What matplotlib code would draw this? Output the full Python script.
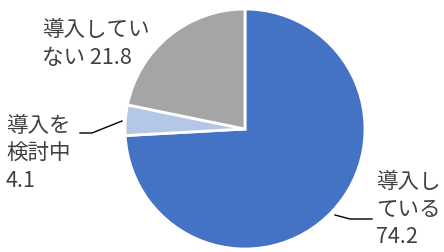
import matplotlib.pyplot as plt
from matplotlib.lines import Line2D

plt.rcParams['font.family'] = ['Noto Sans CJK JP', 'DejaVu Sans']

labels = ['導入し\nている\n74.2', '導入を\n検討中\n4.1', '導入してい\nない 21.8']
values = [74.2, 4.1, 21.8]
colors = ['#4472C4', '#B4C7E7', '#A5A5A5']

W, H = 444, 253
fig = plt.figure(figsize=(W / 100, H / 100), dpi=100)

# pie: center ~ (245,130) px, radius ~120 px
ax = fig.add_axes([125 / W, 1 - 250 / H, 240 / W, 240 / H])
ax.pie(values, colors=colors, startangle=90, counterclock=False,
       wedgeprops=dict(edgecolor='white', linewidth=2))
ax.set_xlim(-1, 1)
ax.set_ylim(-1, 1)
ax.set_aspect('equal')
ax.axis('off')

txt = '#404040'
# label top-left corners in pixels
pos = [(376, 171), (6, 115), (42, 19)]
for lab, (x, y) in zip(labels, pos):
    fig.text(x / W, 1 - y / H, lab, ha='left', va='top', fontsize=15.5,
             color=txt, linespacing=1.33)

# leader lines (pixels)
leaders = [[(335, 216), (350, 220), (372, 220)],
           [(80, 134), (92, 134), (122, 122)]]
for pts in leaders:
    xs = [p[0] / W for p in pts]
    ys = [1 - p[1] / H for p in pts]
    fig.add_artist(Line2D(xs, ys, transform=fig.transFigure, color='black', lw=1))

fig.savefig('out.png', dpi=100)
